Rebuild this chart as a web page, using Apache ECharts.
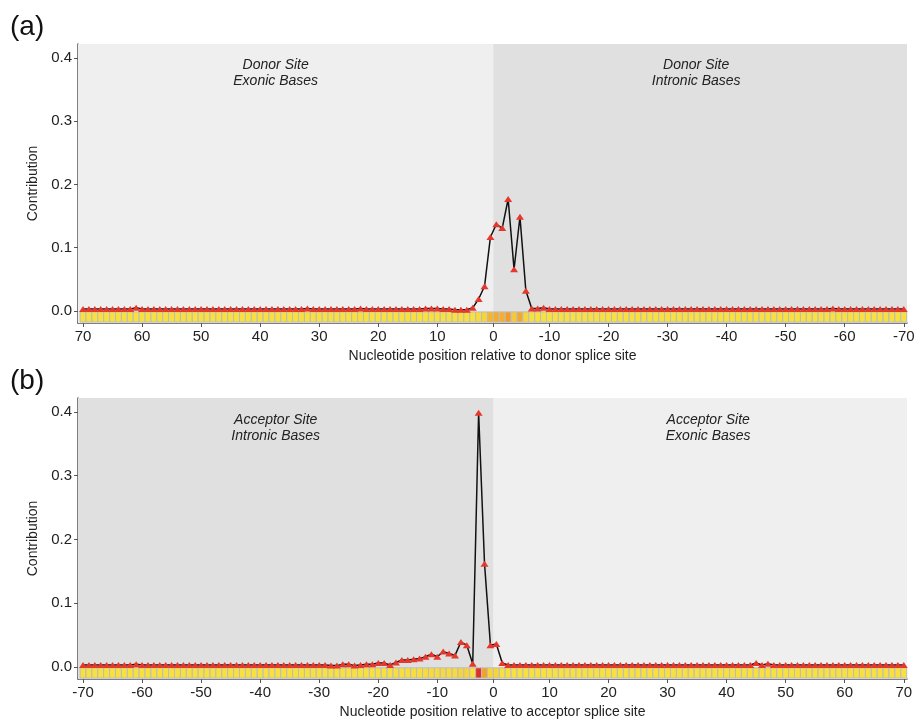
<!DOCTYPE html>
<html><head><meta charset="utf-8">
<script src="https://cdn.jsdelivr.net/npm/echarts@6/dist/echarts.min.js"></script>
<style>html,body{margin:0;padding:0;background:#fff}#c{width:921px;height:722px}</style>
</head><body><div id="c"></div>
<script>
// ---- Panel (a): donor site ----
// exonic positions 70 -> 1
const donorExonic = [
  0.003,0.003,0.003,0.003,0.003,0.003,0.003,0.003,0.003,0.005,
  0.003,0.003,0.003,0.003,0.003,0.003,0.003,0.003,0.003,0.003,
  0.003,0.003,0.003,0.003,0.003,0.003,0.003,0.003,0.003,0.003,
  0.003,0.003,0.003,0.003,0.003,0.003,0.003,0.003,0.004,0.003,
  0.003,0.003,0.003,0.003,0.003,0.003,0.003,0.004,0.003,0.003,
  0.003,0.003,0.003,0.003,0.003,0.003,0.003,0.003,0.004,0.004,
  0.004,0.003,0.003,0.002,0.002,0.002,0.005,0.019,0.039,0.117
];
// intronic positions -1 -> -70
const donorIntronic = [
  0.137,0.131,0.177,0.066,0.149,0.032,0.004,0.004,0.005,0.003,
  0.003,0.003,0.003,0.003,0.003,0.003,0.003,0.003,0.003,0.003,
  0.003,0.003,0.003,0.003,0.003,0.003,0.003,0.003,0.003,0.003,
  0.003,0.003,0.003,0.003,0.003,0.003,0.003,0.003,0.003,0.003,
  0.003,0.003,0.003,0.003,0.003,0.003,0.003,0.003,0.003,0.003,
  0.003,0.003,0.003,0.003,0.003,0.003,0.003,0.004,0.003,0.003,
  0.003,0.003,0.003,0.003,0.003,0.003,0.003,0.003,0.003,0.003
];
// ---- Panel (b): acceptor site ----
// intronic positions -70 -> -1
const acceptorIntronic = [
  0.003,0.003,0.003,0.003,0.003,0.003,0.003,0.003,0.003,0.004,
  0.003,0.003,0.003,0.003,0.003,0.003,0.003,0.003,0.003,0.003,
  0.003,0.003,0.003,0.003,0.003,0.003,0.003,0.003,0.003,0.003,
  0.003,0.003,0.003,0.003,0.003,0.003,0.003,0.003,0.003,0.003,
  0.003,0.003,0.002,0.002,0.004,0.004,0.002,0.003,0.004,0.004,
  0.006,0.006,0.003,0.007,0.011,0.011,0.012,0.013,0.016,0.020,
  0.016,0.024,0.021,0.018,0.039,0.034,0.005,0.399,0.162,0.034
];
// exonic positions 1 -> 70
const acceptorExonic = [
  0.036,0.006,0.003,0.003,0.003,0.003,0.003,0.003,0.003,0.003,
  0.003,0.003,0.003,0.003,0.003,0.003,0.003,0.003,0.003,0.003,
  0.003,0.003,0.003,0.003,0.003,0.003,0.003,0.003,0.003,0.003,
  0.003,0.003,0.003,0.003,0.003,0.003,0.003,0.003,0.003,0.003,
  0.003,0.003,0.003,0.003,0.006,0.003,0.005,0.003,0.003,0.003,
  0.003,0.003,0.003,0.003,0.003,0.003,0.003,0.003,0.003,0.003,
  0.003,0.003,0.003,0.003,0.003,0.003,0.003,0.003,0.003,0.003
];
const donorTicks = [70,60,50,40,30,20,10,0,-10,-20,-30,-40,-50,-60,-70];
const acceptorTicks = [-70,-60,-50,-40,-30,-20,-10,0,10,20,30,40,50,60,70];
const yTicks = [0,0.1,0.2,0.3,0.4];

// positions (no position 0 exists: the splice site lies between -1 and 1)
function toU(p){ return p > 0 ? p - 0.5 : (p < 0 ? p + 0.5 : 0); }
function fromU(u){ return Math.round(u > 0.01 ? u + 0.5 : (u < -0.01 ? u - 0.5 : 0)); }

const donorPos = [], acceptorPos = [];
for (let p = 70; p >= 1; p--) donorPos.push(p);
for (let p = -1; p >= -70; p--) donorPos.push(p);
for (let p = -70; p <= -1; p++) acceptorPos.push(p);
for (let p = 1; p <= 70; p++) acceptorPos.push(p);
const donorVals = donorExonic.concat(donorIntronic);
const acceptorVals = acceptorIntronic.concat(acceptorExonic);
const donorData = donorPos.map((p,i)=>[toU(p), donorVals[i]]);
const acceptorData = acceptorPos.map((p,i)=>[toU(p), acceptorVals[i]]);

const Y_MIN = -0.019, Y_MAX = 0.422;
const STRIP_TOP = -0.0015, STRIP_BOT = -0.0175;
const FONT = 'Liberation Sans, Arial, sans-serif';

function renderHeat(params, api){
  const u = api.value(0);
  const a = api.coord([u - 0.5, STRIP_TOP]);
  const b = api.coord([u + 0.5, STRIP_BOT]);
  const x = Math.min(a[0], b[0]);
  return {
    type: 'rect',
    shape: { x: x, y: a[1], width: Math.abs(b[0]-a[0]), height: b[1]-a[1] },
    style: { fill: api.visual('color'), stroke: '#bcbcbc', lineWidth: 1 }
  };
}

function xAxisCfg(idx, ticks, inverse, min, max, name){
  return {
    type: 'value', gridIndex: idx, inverse: inverse, min: min, max: max,
    name: name, nameLocation: 'middle', nameGap: 26,
    nameTextStyle: { fontFamily: FONT, fontSize: 14, color: '#222' },
    axisLine: { show: true, onZero: false, lineStyle: { color: '#555', width: 1.5 } },
    axisTick: { show: true, length: 4, customValues: ticks.map(toU), lineStyle: { color: '#555' } },
    axisLabel: { customValues: ticks.map(toU), formatter: v => String(fromU(v)),
      fontFamily: FONT, fontSize: 15, color: '#222', margin: 6 },
    splitLine: { show: false }
  };
}
function yAxisCfg(idx){
  return {
    type: 'value', gridIndex: idx, min: Y_MIN, max: Y_MAX,
    name: 'Contribution', nameLocation: 'middle', nameGap: 27, nameRotate: 90,
    nameTextStyle: { fontFamily: FONT, fontSize: 14, color: '#222' },
    axisLine: { show: true, onZero: false, lineStyle: { color: '#555', width: 1.5 } },
    axisTick: { show: true, length: 4, customValues: yTicks, lineStyle: { color: '#555' } },
    axisLabel: { customValues: yTicks, formatter: v => v.toFixed(1),
      fontFamily: FONT, fontSize: 15, color: '#222', margin: 6 },
    splitLine: { show: false }
  };
}
function areaLabel(text, dx, dist){
  return { show: true, position: 'insideTop', distance: dist, offset: [dx, 0],
    formatter: text, fontFamily: FONT, fontStyle: 'italic', fontSize: 14,
    lineHeight: 16, color: '#222' };
}
function areaStyle(c){ return { color: c, borderWidth: 0, opacity: 1 }; }
function lineSeries(idx, data, areas){
  return {
    type: 'line', xAxisIndex: idx, yAxisIndex: idx, data: data, z: 4,
    symbol: 'triangle', symbolSize: [8, 6], showSymbol: true,
    itemStyle: { color: '#e5372b' },
    lineStyle: { color: '#111', width: 1.5 },
    emphasis: { disabled: true },
    markArea: { silent: true, itemStyle: { borderWidth: 0 }, data: areas }
  };
}

const option = {
  animation: false,
  backgroundColor: '#fff',
  grid: [
    { left: 78, right: 14, top: 44, height: 279, show: true, backgroundColor: '#efefef', borderWidth: 0 },
    { left: 78, right: 14, top: 398, height: 281, show: true, backgroundColor: '#efefef', borderWidth: 0 }
  ],
  xAxis: [
    xAxisCfg(0, donorTicks, true, -70.05, 70.35, 'Nucleotide position relative to donor splice site'),
    xAxisCfg(1, acceptorTicks, false, -70.35, 70.05, 'Nucleotide position relative to acceptor splice site')
  ],
  yAxis: [ yAxisCfg(0), yAxisCfg(1) ],
  visualMap: {
    show: false, type: 'continuous', seriesIndex: [0, 2], dimension: 1,
    min: 0, max: 0.4,
    inRange: { color: ['#f8e23e', '#f6bd30', '#f39027', '#ea6028', '#df2f28'] }
  },
  graphic: [
    { type: 'text', left: 10, top: 13, style: { text: '(a)', font: '28px ' + FONT, fill: '#111' } },
    { type: 'text', left: 10, top: 367, style: { text: '(b)', font: '28px ' + FONT, fill: '#111' } }
  ],
  series: [
    { type: 'custom', xAxisIndex: 0, yAxisIndex: 0, data: donorData, renderItem: renderHeat,
      encode: { x: 0, y: 1 }, z: 3, silent: true },
    lineSeries(0, donorData, [
      [ { xAxis: 70.35, itemStyle: areaStyle('#efefef'), label: areaLabel('Donor Site\nExonic Bases', -10, 13) }, { xAxis: 0 } ],
      [ { xAxis: 0, itemStyle: areaStyle('#e0e0e0'), label: areaLabel('Donor Site\nIntronic Bases', -4, 13) }, { xAxis: -70.05 } ]
    ]),
    { type: 'custom', xAxisIndex: 1, yAxisIndex: 1, data: acceptorData, renderItem: renderHeat,
      encode: { x: 0, y: 1 }, z: 3, silent: true },
    lineSeries(1, acceptorData, [
      [ { xAxis: -70.35, itemStyle: areaStyle('#e0e0e0'), label: areaLabel('Acceptor Site\nIntronic Bases', -10, 14) }, { xAxis: 0 } ],
      [ { xAxis: 0, itemStyle: areaStyle('#efefef'), label: areaLabel('Acceptor Site\nExonic Bases', 8, 14) }, { xAxis: 70.05 } ]
    ])
  ]
};
const chart = echarts.init(document.getElementById('c'), null, { renderer: 'canvas' });
chart.setOption(option);
</script></body></html>
